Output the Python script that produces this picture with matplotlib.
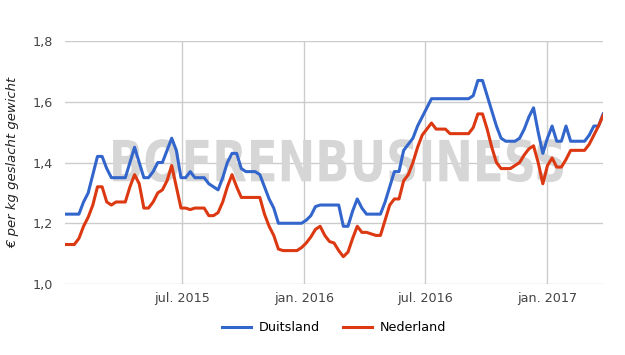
import matplotlib
matplotlib.use('Agg')
import matplotlib.pyplot as plt
from matplotlib.textpath import TextPath
from matplotlib.patches import PathPatch
from matplotlib.font_manager import FontProperties
from matplotlib.transforms import Affine2D
import pandas as pd

plt.rcParams['font.family'] = ['DejaVu Sans']

# weekly prices, jan 2015 - mar 2017
weeks = pd.date_range('2015-01-05', periods=117, freq='7D')

duitsland = [
    1.23, 1.23, 1.23, 1.23, 1.27, 1.30, 1.36, 1.42, 1.42, 1.38,
    1.35, 1.35, 1.35, 1.35, 1.40, 1.45, 1.40, 1.35, 1.35, 1.37,
    1.40, 1.40, 1.44, 1.48, 1.44, 1.35, 1.35, 1.37, 1.35, 1.35,
    1.35, 1.33, 1.32, 1.31, 1.35, 1.40, 1.43, 1.43, 1.38, 1.37,
    1.37, 1.37, 1.36, 1.32, 1.28, 1.25, 1.20, 1.20, 1.20, 1.20,
    1.20, 1.20, 1.21, 1.225, 1.255, 1.26, 1.26, 1.26, 1.26, 1.26,
    1.19, 1.19, 1.24, 1.28, 1.25, 1.23, 1.23, 1.23, 1.23, 1.27,
    1.32, 1.37, 1.37, 1.44, 1.46, 1.48, 1.52, 1.55, 1.58, 1.61,
    1.61, 1.61, 1.61, 1.61, 1.61, 1.61, 1.61, 1.61, 1.62, 1.67,
    1.67, 1.62, 1.57, 1.52, 1.48, 1.47, 1.47, 1.47, 1.48, 1.51,
    1.55, 1.58, 1.50, 1.43, 1.48, 1.52, 1.47, 1.47, 1.52, 1.47,
    1.47, 1.47, 1.47, 1.49, 1.52, 1.52, 1.56,
]

nederland = [
    1.13, 1.13, 1.13, 1.15, 1.19, 1.22, 1.26, 1.32, 1.32, 1.27,
    1.26, 1.27, 1.27, 1.27, 1.32, 1.36, 1.33, 1.25, 1.25, 1.27,
    1.30, 1.31, 1.34, 1.39, 1.32, 1.25, 1.25, 1.245, 1.25, 1.25,
    1.25, 1.225, 1.225, 1.235, 1.27, 1.32, 1.36, 1.32, 1.285, 1.285,
    1.285, 1.285, 1.285, 1.23, 1.19, 1.16, 1.115, 1.11, 1.11, 1.11,
    1.11, 1.12, 1.135, 1.155, 1.18, 1.19, 1.16, 1.14, 1.135, 1.11,
    1.09, 1.105, 1.15, 1.19, 1.17, 1.17, 1.165, 1.16, 1.16, 1.21,
    1.26, 1.28, 1.28, 1.34, 1.36, 1.40, 1.45, 1.49, 1.51, 1.53,
    1.51, 1.51, 1.51, 1.495, 1.495, 1.495, 1.495, 1.495, 1.515, 1.56,
    1.56, 1.51, 1.45, 1.40, 1.38, 1.38, 1.38, 1.39, 1.40, 1.425,
    1.445, 1.455, 1.40, 1.33, 1.39, 1.415, 1.385, 1.385, 1.41, 1.44,
    1.44, 1.44, 1.44, 1.46, 1.49, 1.52, 1.555,
]

yticks = [1.0, 1.2, 1.4, 1.6, 1.8]
ytick_labels = ['1,0', '1,2', '1,4', '1,6', '1,8']
xticks = ['2015-07-01', '2016-01-01', '2016-07-01', '2017-01-01']
xtick_labels = ['jul. 2015', 'jan. 2016', 'jul. 2016', 'jan. 2017']

fig = plt.figure(figsize=(6.25, 3.55), dpi=100)
ax = fig.add_axes([0.104, 0.2, 0.861, 0.6845])

ax.plot(weeks, duitsland, color='#3366cc', lw=2.2, label='Duitsland', zorder=3,
        solid_joinstyle='round')
ax.plot(weeks, nederland, color='#dc3912', lw=2.2, label='Nederland', zorder=3,
        solid_joinstyle='round')

# watermark: tall, narrow lettering squeezed into a box (figure fractions)
tp = TextPath((0, 0), 'BOERENBUSINESS', size=1, prop=FontProperties(family='DejaVu Sans', weight='bold'))
ext = tp.get_extents()
x0, x1, y0, y1 = 0.181, 0.901, 0.487, 0.608
tr = Affine2D().translate(-ext.x0, -ext.y0).scale((x1 - x0) / ext.width, (y1 - y0) / ext.height).translate(x0, y0)
wm = PathPatch(tr.transform_path(tp), transform=fig.transFigure, facecolor='#d6d6d6',
               edgecolor='none', zorder=2, clip_on=False)
ax.add_artist(wm)

ax.set_xlim(weeks[0], weeks[-1])
ax.set_ylim(1.0, 1.8)
ax.set_yticks(yticks)
ax.set_yticklabels(ytick_labels)
ax.set_xticks(pd.to_datetime(xticks))
ax.set_xticklabels(xtick_labels)

ax.grid(True, color='#cccccc', lw=1, zorder=0)
ax.set_axisbelow(True)
for s in ax.spines.values():
    s.set_visible(False)
ax.tick_params(length=0, labelsize=9.2, labelcolor='#444444')
ax.tick_params(axis='y', pad=9)
ax.tick_params(axis='x', pad=6)

ax.set_ylabel('€ per kg geslacht gewicht', fontsize=9.5, style='italic', color='#222222',
              labelpad=9)

ax.legend(loc='upper center', bbox_to_anchor=(0.5, -0.105), ncol=2, frameon=False,
          fontsize=9.2, handlelength=2.3, columnspacing=1.8, handletextpad=0.6)

fig.savefig('out.png', dpi=100)
